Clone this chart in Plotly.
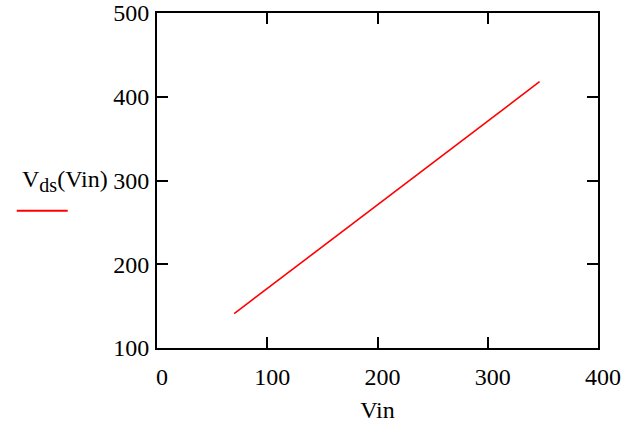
import plotly.graph_objects as go

# Data
vin = [70, 347]
vds = [141, 418]

x_ticks = [0, 100, 200, 300, 400]
y_ticks = [100, 200, 300, 400, 500]

FONT = "Liberation Serif"
FS = 24

fig = go.Figure()
fig.add_trace(go.Scatter(x=vin, y=vds, mode="lines",
                         line=dict(color="#ff0000", width=1.6),
                         showlegend=False, hoverinfo="skip"))

axis_common = dict(
    showgrid=False, zeroline=False, automargin=False,
    showline=True, linecolor="black", linewidth=2, mirror="ticks",
    ticks="inside", ticklen=11, tickwidth=2, tickcolor="black",
    tickfont=dict(family=FONT, size=FS, color="black"),
)

fig.update_xaxes(range=[0, 400], tickvals=x_ticks, ticktext=[str(v) for v in x_ticks],
                 ticklabelshift=5, ticklabelstandoff=6,
                 title=dict(text="Vin", font=dict(family=FONT, size=FS, color="black"), standoff=12),
                 **axis_common)
fig.update_yaxes(range=[100, 500], tickvals=y_ticks, ticktext=[str(v) for v in y_ticks],
                 ticklabelstandoff=1,
                 **axis_common)

# Mathcad-style trace label with its line sample
fig.add_annotation(xref="paper", yref="paper", x=-0.3107, y=0.50,
                   xanchor="left", yanchor="middle", showarrow=False,
                   text="V<sub><span style='font-size:20px'>ds</span></sub>(Vin)",
                   font=dict(family=FONT, size=FS, color="black"))
fig.add_shape(type="line", xref="paper", yref="paper",
              x0=-0.318, x1=-0.2025, y0=0.41, y1=0.41,
              line=dict(color="#ff0000", width=2))

fig.update_layout(
    width=629, height=427,
    margin=dict(l=157, r=31, t=13, b=79, autoexpand=False),
    paper_bgcolor="white", plot_bgcolor="white",
    font=dict(family=FONT, size=FS, color="black"),
)

fig.write_html("out.html")
